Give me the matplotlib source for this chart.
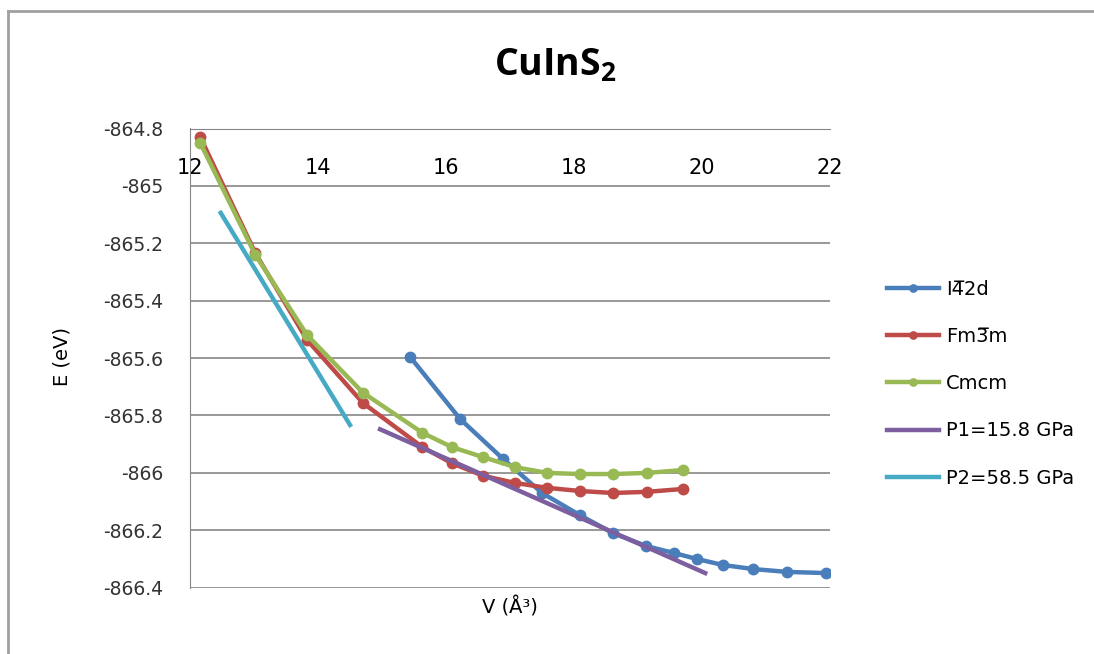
import numpy as np
import matplotlib
matplotlib.use('Agg')
import matplotlib.pyplot as plt
from matplotlib.lines import Line2D

#============================================================
# data
#============================================================
v_i42d = [15.44, 16.22, 16.89, 17.50, 18.09, 18.61, 19.13, 19.56, 19.92, 20.33, 20.80, 21.33, 21.94]
e_i42d = [-865.596, -865.812, -865.951, -866.070, -866.147, -866.210, -866.255, -866.279,
          -866.300, -866.321, -866.335, -866.345, -866.349]

v_fm3m = [12.16, 13.02, 13.83, 14.70, 15.63, 16.09, 16.58, 17.08, 17.58, 18.09, 18.61, 19.14, 19.70]
e_fm3m = [-864.830, -865.234, -865.537, -865.756, -865.910, -865.966, -866.010, -866.035,
          -866.052, -866.063, -866.070, -866.066, -866.056]

v_cmcm = [12.16, 13.02, 13.83, 14.70, 15.63, 16.09, 16.58, 17.08, 17.58, 18.09, 18.61, 19.14, 19.70]
e_cmcm = [-864.850, -865.240, -865.520, -865.720, -865.860, -865.910, -865.945, -865.980,
          -866.000, -866.004, -866.004, -866.000, -865.990]

v_p1 = [14.97, 20.05]
e_p1 = [-865.848, -866.349]

v_p2 = [12.48, 14.50]
e_p2 = [-865.094, -865.833]

labels = ['I4\u03052d', 'Fm3\u0305m', 'Cmcm', 'P1=15.8 GPa', 'P2=58.5 GPa']
colors = ['#4A7EBB', '#BE4B48', '#98B954', '#7D5FA0', '#46AAC5']
#============================================================

fig = plt.figure(figsize=(10.94, 6.54), dpi=100)
ax = fig.add_axes([190/1094, 1-587.7/654, 640/1094, (587.7-128.5)/654])

ax.plot(v_i42d, e_i42d, color=colors[0], lw=3.2, marker='o', ms=7.5, label=labels[0])
ax.plot(v_fm3m, e_fm3m, color=colors[1], lw=3.2, marker='o', ms=7.5, label=labels[1])
ax.plot(v_cmcm, e_cmcm, color=colors[2], lw=3.2, marker='o', ms=7.5, label=labels[2])
ax.plot(v_p1, e_p1, color=colors[3], lw=3.2, label=labels[3])
ax.plot(v_p2, e_p2, color=colors[4], lw=3.2, label=labels[4])

ax.set_xlim(12, 22)
ax.set_ylim(-866.4, -864.8)
ax.set_xticks(np.arange(12, 23, 2))
ax.set_yticks(np.arange(-866.4, -864.79, 0.2))
ax.set_yticklabels(['-866.4', '-866.2', '-866', '-865.8', '-865.6', '-865.4', '-865.2', '-865', '-864.8'])

# Excel style: x axis crosses at the top
ax.spines['bottom'].set_position(('data', -864.8))
ax.spines['bottom'].set_color('#868686')
ax.spines['left'].set_color('#868686')
ax.spines['top'].set_visible(False)
ax.spines['right'].set_visible(False)
ax.grid(axis='y', color='#868686', lw=1.2)
ax.set_axisbelow(True)
ax.tick_params(axis='x', length=0, pad=21, labelsize=15, labelcolor='black')
ax.tick_params(axis='y', length=0, pad=19, labelsize=13.5, labelcolor='#333333')

fig.text(510/1094, 1-607/654, 'V (\u00c5\u00b3)', ha='center', va='center', fontsize=14)
fig.text(62/1094, 1-357/654, 'E (eV)', ha='center', va='center', rotation=90, fontsize=14)
fig.text(555/1094, 1-66/654, 'CuInS$_2$', ha='center', va='center', fontsize=27, fontweight='bold',
         family='Open Sans')
plt.rcParams['mathtext.default'] = 'regular'

leg = ax.legend(loc='upper left', bbox_to_anchor=(879/1094, 1-272/654), bbox_transform=fig.transFigure,
                frameon=False, fontsize=14, handlelength=2.7, labelspacing=1.45, handletextpad=0.36,
                borderaxespad=0, markerscale=0.7)

# outer chart border
fig.add_artist(Line2D([8/1094, 8/1094], [0, 1-11/654], color='#A0A0A0', lw=2))
fig.add_artist(Line2D([8/1094, 1], [1-11/654, 1-11/654], color='#A0A0A0', lw=2))

fig.savefig('out.png', dpi=100)
